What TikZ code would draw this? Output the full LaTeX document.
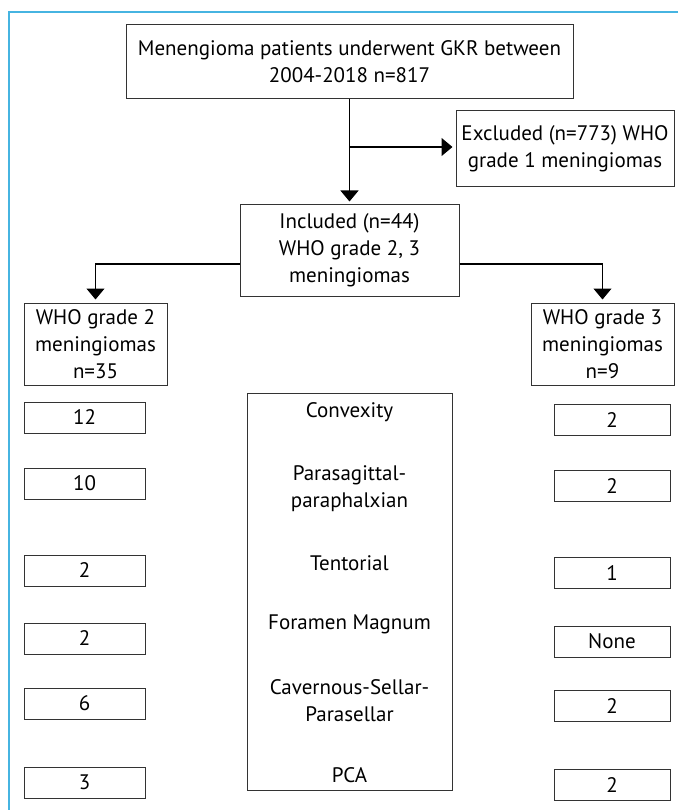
\documentclass[tikz,border=0pt]{standalone}
\usepackage{fontspec}
\setmainfont{PT Sans}
\usepackage{xcolor}
\usepackage{tikz}
\usetikzlibrary{arrows.meta}
\definecolor{framecol}{RGB}{70,180,225}

\begin{document}
\begin{tikzpicture}[x=1pt,y=-1pt,->,>={Triangle[width=18pt,length=11pt]},
                    shorten >=3pt,line width=1.2pt,
                    every node/.style={font=\fontsize{21}{27}\selectfont,align=center,inner sep=0pt},
                    box/.style={draw=black!80,line width=1pt,rectangle},
                    numbox/.style={box,minimum height=31pt}]
    \useasboundingbox (0,0) rectangle (678,810);
    \draw[-,shorten >=0pt,framecol,line width=1.5pt] (678,12) -- (9,12) -- (9,810);

    \node[box,minimum width=447pt,minimum height=74pt] (gkr) at (349.5,62)
        {Menengioma patients underwent GKR between\\2004-2018 n=817};
    \node[box,minimum width=218pt,minimum height=76pt] (excl) at (565,149)
        {Excluded (n=773) WHO\\grade 1 meningiomas};
    \node[box,minimum width=219pt,minimum height=91pt] (incl) at (349.5,250.5)
        {Included (n=44)\\WHO grade 2, 3\\meningiomas};
    \node[box,minimum width=143pt,minimum height=82pt] (gradeii) at (95.5,344)
        {WHO grade 2\\meningiomas\\n=35};
    \node[box,minimum width=143pt,minimum height=82pt] (gradeiii) at (602.5,344)
        {WHO grade 3\\meningiomas\\n=9};

    % tumour sites
    \node[box,minimum width=205pt,minimum height=397pt] (sites) at (349.5,591.5) {};
    \node (conv)  at (349.5,412)   {Convexity};
    \node (para)  at (349.5,488.5) {Parasagittal-\\paraphalxian};
    \node (tent)  at (349.5,563)   {Tentorial};
    \node (foram) at (349.5,624)   {Foramen Magnum};
    \node (cav)   at (349.5,701)   {Cavernous-Sellar-\\Parasellar};
    \node (pca)   at (349.5,775)   {PCA};

    % grade 2 counts
    \node[numbox,minimum width=121pt] (iiconv)  at (84.5,417.5) {12};
    \node[numbox,minimum width=121pt] (iipara)  at (84.5,483.5) {10};
    \node[numbox,minimum width=121pt] (iitent)  at (84.5,570.5) {2};
    \node[numbox,minimum width=121pt] (iiforam) at (84.5,638.5) {2};
    \node[numbox,minimum width=121pt] (iicav)   at (84.5,703.5) {6};
    \node[numbox,minimum width=121pt] (iipca)   at (84.5,782.5) {3};

    % grade 3 counts
    \node[numbox,minimum width=116pt] (iiiconv)  at (612,420)   {2};
    \node[numbox,minimum width=116pt] (iiipara)  at (612,486)   {2};
    \node[numbox,minimum width=116pt] (iiitent)  at (612,573)   {1};
    \node[numbox,minimum width=116pt] (iiiforam) at (612,641.5) {None};
    \node[numbox,minimum width=116pt] (iiicav)   at (612,706)   {2};
    \node[numbox,minimum width=116pt] (iiipca)   at (612,785)   {2};

    \coordinate (split) at (349.5,147);
    \draw (gkr) -- (incl);
    \draw (split) -- (split -| excl.west);
    \draw ([yshift=-13.5pt]incl.west) -| (gradeii);
    \draw ([yshift=-13.5pt]incl.east) -| (gradeiii);
\end{tikzpicture}
\end{document}
